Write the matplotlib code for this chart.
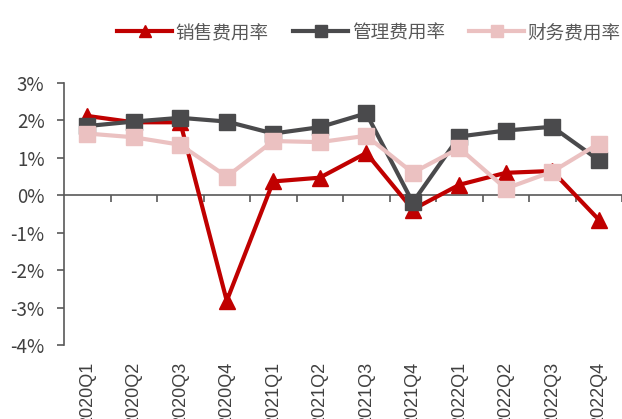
import matplotlib.pyplot as plt
import matplotlib.transforms as mtransforms
from matplotlib.ticker import FuncFormatter

plt.rcParams["font.family"] = ["Noto Sans CJK SC", "DejaVu Sans"]

quarters = ["2020Q1", "2020Q2", "2020Q3", "2020Q4",
            "2021Q1", "2021Q2", "2021Q3", "2021Q4",
            "2022Q1", "2022Q2", "2022Q3", "2022Q4"]
sales_rate = [2.12, 1.95, 1.95, -2.82, 0.37, 0.47, 1.13, -0.38, 0.28, 0.60, 0.65, -0.65]
admin_rate = [1.85, 1.97, 2.07, 1.97, 1.65, 1.82, 2.19, -0.19, 1.57, 1.73, 1.83, 0.94]
finance_rate = [1.65, 1.55, 1.35, 0.50, 1.45, 1.42, 1.59, 0.60, 1.26, 0.18, 0.63, 1.38]

fig = plt.figure(figsize=(6.22, 4.19), dpi=100)
ax = fig.add_axes([64 / 622, 1 - 345 / 419, 1 - 64 / 622, (345 - 83) / 419])

x = list(range(len(quarters)))
ax.plot(x, sales_rate, color="#C00000", lw=3, marker="^", ms=12, label="销售费用率", zorder=3)
ax.plot(x, admin_rate, color="#4A4A4C", lw=3, marker="s", ms=11.5, label="管理费用率", zorder=4)
ax.plot(x, finance_rate, color="#EBC1C1", lw=3, marker="s", ms=11.5, label="财务费用率", zorder=5)

ax.set_xlim(-0.5, len(quarters) - 0.5)
ax.set_ylim(-4, 3)
ax.set_yticks(range(-4, 4))
ax.yaxis.set_major_formatter(FuncFormatter(lambda v, p: f"{v:.0f}%"))

for s in ["top", "right"]:
    ax.spines[s].set_visible(False)
ax.spines["bottom"].set_position(("data", 0))
ax.spines["bottom"].set_color("#595959")
ax.spines["left"].set_color("#595959")
ax.spines["bottom"].set_linewidth(1.2)
ax.spines["left"].set_linewidth(1.2)

# x ticks sit between categories, labels go below the plot area
ax.set_xticks([i + 0.5 for i in range(len(quarters))])
ax.set_xticklabels([])
ax.tick_params(axis="x", direction="out", length=5, color="#595959", width=1.2)
ax.tick_params(axis="y", direction="out", length=5, color="#595959", width=1.2,
               labelsize=13.5, labelcolor="#404040", pad=9)

trans = mtransforms.blended_transform_factory(ax.transData, ax.transAxes)
for i, q in enumerate(quarters):
    ax.text(i, -0.065, q, transform=trans, rotation=90, ha="center", va="top",
            fontsize=13, family="Liberation Sans", color="#404040", clip_on=False)

fig.legend(loc="center", bbox_to_anchor=(369 / 622, 1 - 33 / 419), ncol=3,
           frameon=False, fontsize=13.4, handlelength=2.95, columnspacing=1.3,
           handletextpad=0.2, labelcolor="#595959", markerscale=0.75)

fig.savefig("out.png", dpi=100)
